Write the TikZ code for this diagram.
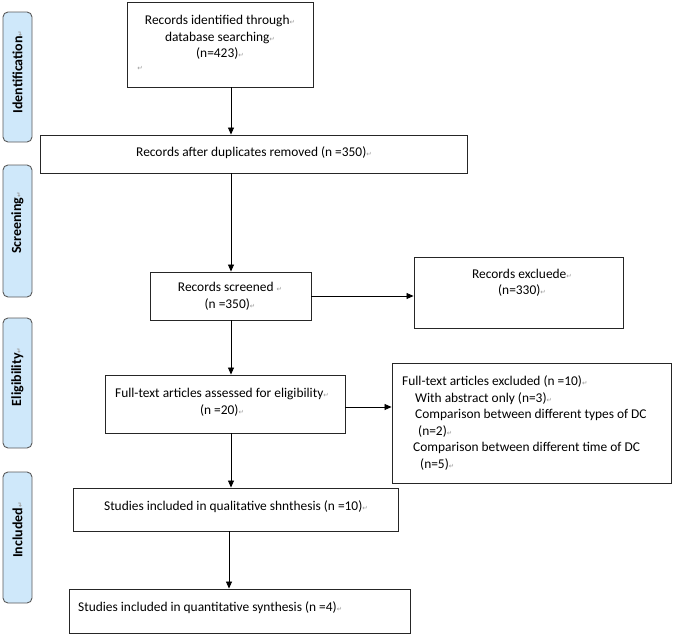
\documentclass[tikz,border=0pt]{standalone}
\usepackage{fontspec}
\setmainfont{Carlito}
\newfontfamily\symfont{DejaVu Sans}
\usetikzlibrary{arrows.meta,calc}
\definecolor{barfill}{HTML}{CFE8FA}
\definecolor{barline}{HTML}{5A5A5A}
\newcommand{\ret}{{\symfont\color{black!40}\fontsize{6.5}{6.5}\selectfont ↵}}
\begin{document}
\begin{tikzpicture}[x=1pt,y=-1pt,
  box/.style={draw=black!85,line width=0.9pt,rectangle,inner sep=0pt},
  txt/.style={inner sep=0pt,font=\fontsize{13.4}{16.5}\selectfont,align=center},
  bar/.style={draw=barline,line width=0.9pt,fill=barfill,rounded corners=5pt,rectangle,inner sep=0pt,minimum width=29pt},
  bartxt/.style={inner sep=0pt,rotate=90,font=\fontsize{14}{14}\selectfont\bfseries},
  arr/.style={line width=0.8pt,-{Triangle[length=7pt,width=6pt]}},
  ln/.style={line width=0.8pt}]
\useasboundingbox (0,0) rectangle (675,637);
% side bars
\node[bar,minimum height=130pt] (s1) at (17.5,77) {};
\node[bar,minimum height=132pt] (s2) at (17.5,231) {};
\node[bar,minimum height=130pt] (s3) at (17.5,383) {};
\node[bar,minimum height=131pt] (s4) at (17.5,537.5) {};
\node[bartxt] (l1) at (17.5,72) {Identification\ret};
\node[bartxt] (l2) at (17.5,223) {Screening\ret};
\node[bartxt] (l3) at (17.5,377) {Eligibility\ret};
\node[bartxt] (l4) at (17.5,530) {Included\ret};
% boxes
\node[box,minimum width=186pt,minimum height=85pt] (b1) at (220,44.5) {};
\node[box,minimum width=427pt,minimum height=38pt] (b2) at (253.5,154) {};
\node[box,minimum width=161pt,minimum height=48pt] (b3) at (230.5,296) {};
\node[box,minimum width=209pt,minimum height=71pt] (b4) at (518.5,292.5) {};
\node[box,minimum width=240pt,minimum height=58pt] (b5) at (225,404) {};
\node[box,minimum width=279pt,minimum height=120pt] (b6) at (531.5,423) {};
\node[box,minimum width=325pt,minimum height=43pt] (b7) at (235.5,509.5) {};
\node[box,minimum width=341pt,minimum height=44pt] (b8) at (239.5,611) {};
% texts
\node[txt] (t1) at (220,37.5) {Records identified through\ret\\database searching\ret\\(n=423)\ret};
\node[txt] (t1b) at (140,68) {\ret};
\node[txt] (t2) at (254,153) {Records after duplicates removed (n =350)\ret};
\node[txt] (t3) at (230,296.5) {Records screened \ret\\(n =350)\ret};
\node[txt] (t4) at (522,283) {Records excluede\ret\\(n=330)\ret};
\node[txt] (t5) at (222,402.5) {Full-text articles assessed for eligibility\ret\\(n =20)\ret};
\node[txt,align=left,anchor=west] (t6) at (402,423) {Full-text articles excluded (n =10)\ret\\
\hspace*{13pt}With abstract only (n=3)\ret\\
\hspace*{13pt}Comparison between different types of DC\\
\hspace*{16pt}(n=2)\ret\\
\hspace*{11pt}Comparison between different time of DC\\
\hspace*{18pt}(n=5)\ret};
\node[txt] (t7) at (236,507) {Studies included in qualitative shnthesis (n =10)\ret};
\node[txt,anchor=west] (t8) at (78,608) {Studies included in quantitative synthesis (n =4)\ret};
% connectors
\coordinate (xa) at (231,0);
\coordinate (xb) at (229,0);
\coordinate (ya) at (0,407);
\draw[arr] (b1.south -| xa) -- (b2.north -| xa);
\draw[arr] (b2.south -| xa) -- (b3.north -| xa);
\draw[arr] (b3.east) -- (b4.west |- b3.east);
\draw[arr] (b3.south -| xa) -- (b5.north -| xa);
\draw[arr] (b5.east |- ya) -- (b6.west |- ya);
\draw[arr] (b5.south -| xa) -- (b7.north -| xa);
\draw[arr] (b7.south -| xb) -- (b8.north -| xb);
\end{tikzpicture}
\end{document}
